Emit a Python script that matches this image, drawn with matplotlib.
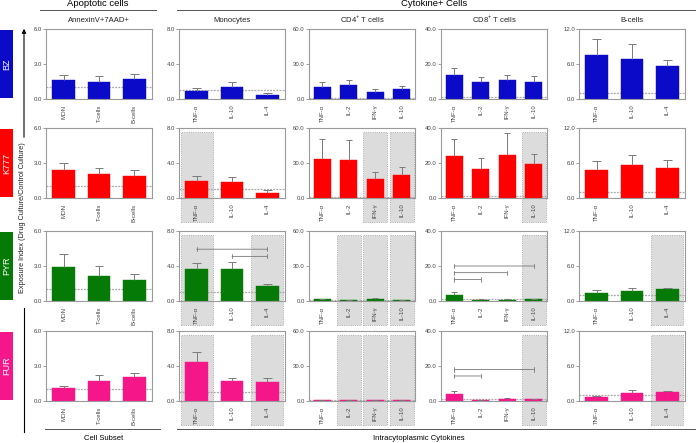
import numpy as np
import matplotlib.pyplot as plt
import matplotlib.transforms as mtransforms
from matplotlib.patches import Rectangle, FancyArrowPatch
from matplotlib.lines import Line2D

plt.rcParams['font.family'] = ['Liberation Sans', 'DejaVu Sans']
plt.rcParams['mathtext.fontset'] = 'custom'
plt.rcParams['mathtext.rm'] = 'Liberation Sans'

W, H = 696, 443

drugs = ['BZ', 'K777', 'PYR', 'FUR']
drug_colors = ['#0a0ac8', '#ff0000', '#067a06', '#f5168a']

panel_titles = ['AnnexinV+7AAD+', 'Monocytes', 'CD4$^{+}$ T cells',
                'CD8$^{+}$ T cells', 'B-cells']
panel_cats = [
    ['MON', 'T-cells', 'B-cells'],
    ['TNF-α', 'IL-10', 'IL-4'],
    ['TNF-α', 'IL-2', 'IFN-γ', 'IL-10'],
    ['TNF-α', 'IL-2', 'IFN-γ', 'IL-10'],
    ['TNF-α', 'IL-10', 'IL-4'],
]
panel_ymax = [6.0, 8.0, 60.0, 40.0, 12.0]

# means per drug (rows) and panel (columns)
mean_bz = [[1.65, 1.50, 1.70], [0.95, 1.40, 0.45], [9.9, 12.2, 6.4, 8.7],
           [13.7, 9.6, 10.8, 10.0], [7.5, 6.8, 5.7]]
mean_k777 = [[2.40, 2.05, 1.85], [1.96, 1.85, 0.62], [33.3, 32.2, 15.9, 20.0],
             [23.8, 16.6, 24.8, 19.4], [4.74, 5.6, 5.2]]
mean_pyr = [[2.89, 2.18, 1.81], [3.70, 3.62, 1.70], [1.3, 0.8, 1.9, 0.8],
            [3.6, 0.75, 0.75, 1.1], [1.42, 1.75, 2.04]]
mean_fur = [[1.09, 1.74, 2.10], [4.42, 2.30, 2.15], [1.0, 0.9, 0.8, 0.8],
            [4.1, 0.6, 1.3, 1.0], [0.67, 1.33, 1.50]]

# standard errors (upper bars only)
err_bz = [[0.45, 0.50, 0.45], [0.35, 0.60, 0.25], [4.3, 4.3, 2.0, 2.6],
          [4.3, 3.1, 3.2, 2.9], [2.8, 2.65, 0.93]]
err_k777 = [[0.57, 0.52, 0.57], [0.58, 0.53, 0.34], [17.4, 17.4, 6.7, 6.7],
            [9.9, 6.3, 12.2, 5.7], [1.6, 1.7, 1.3]]
err_pyr = [[1.11, 0.85, 0.51], [0.64, 0.80, 0.26], [0.3, 0.2, 0.8, 0.2],
           [1.5, 0.2, 0.2, 0.2], [0.45, 0.45, 0.16]]
err_fur = [[0.17, 0.47, 0.34], [1.20, 0.30, 0.45], [0.2, 0.2, 0.2, 0.2],
           [1.5, 0.15, 0.2, 0.2], [0.16, 0.50, 0.17]]

means = [mean_bz, mean_k777, mean_pyr, mean_fur]
errs = [err_bz, err_k777, err_pyr, err_fur]

# shaded (panel, category) per drug
highlight_bz = []
highlight_k777 = [(1, 0), (2, 2), (2, 3), (3, 3)]
highlight_pyr = [(1, 0), (1, 2), (2, 1), (2, 2), (2, 3), (3, 3), (4, 2)]
highlight_fur = [(1, 0), (1, 2), (2, 1), (2, 2), (2, 3), (3, 3), (4, 2)]
highlights = [highlight_bz, highlight_k777, highlight_pyr, highlight_fur]

# significance brackets: (drug, panel, from, to, y)
brackets = [
    (2, 1, 0, 2, 5.92), (2, 1, 1, 2, 5.1),
    (2, 3, 0, 3, 20.0), (2, 3, 0, 2, 16.2), (2, 3, 0, 1, 12.3),
    (3, 3, 0, 3, 18.0), (3, 3, 0, 1, 14.3),
]

col_left = [46, 179, 309, 441, 579]
col_w = 106
row_top = [29, 128, 231, 331]
row_h = 70

def fx(x):
    return x / W

def fy(y):
    return 1 - y / H

fig = plt.figure(figsize=(W / 100, H / 100), dpi=100)

axes = {}
for r, drug in enumerate(drugs):
    for c in range(5):
        ax = fig.add_axes([fx(col_left[c]), fy(row_top[r] + row_h),
                           col_w / W, row_h / H])
        axes[(r, c)] = ax
        cats = panel_cats[c]
        n = len(cats)
        x = np.arange(n)
        ymax = panel_ymax[c]
        trans = mtransforms.blended_transform_factory(ax.transData, ax.transAxes)

        for (p, k) in highlights[r]:
            if p == c:
                ax.add_patch(Rectangle((k - 0.45, -0.34), 0.9, 1.28, transform=trans,
                                       facecolor='#dcdcdc', edgecolor='#9a9a9a',
                                       linestyle=':', lw=0.6, clip_on=False, zorder=0))

        ax.axhline(1.0, color='#a8a8a8', lw=0.9, ls=(0, (1.5, 1)), zorder=1)
        ax.bar(x, means[r][c], width=0.65, color=drug_colors[r],
               edgecolor=drug_colors[r], lw=0.3, zorder=2)
        tops = np.array(means[r][c]) + np.array(errs[r][c])
        ax.vlines(x, means[r][c], tops, color='#7a7a7a', lw=0.7, zorder=3)
        ax.hlines(tops, x - 0.12, x + 0.12, color='#7a7a7a', lw=0.7, zorder=3)

        ax.set_xlim(-0.5, n - 0.5)
        ax.set_ylim(0, ymax)
        ax.set_yticks([0, ymax / 2, ymax])
        ax.set_yticklabels(['%.1f' % v for v in [0, ymax / 2, ymax]])
        ax.set_xticks(x)
        ax.set_xticklabels(cats, rotation=90)
        ax.tick_params(axis='y', labelsize=4.3, length=2, width=0.5,
                       color='#777777', labelcolor='#444444', pad=1)
        ax.tick_params(axis='x', labelsize=4.3, length=0, pad=4,
                       labelcolor='#444444')
        for s in ax.spines.values():
            s.set_color('#9a9a9a')
            s.set_linewidth(0.8)

        if r == 0:
            ax.set_title(panel_titles[c], fontsize=5.5, pad=5, color='#222222')

for (r, c, i, j, y) in brackets:
    ax = axes[(r, c)]
    ax.annotate('', xy=(i, y), xytext=(j, y),
                arrowprops=dict(arrowstyle='|-|,widthA=0.15,widthB=0.15',
                                color='#777777', lw=0.6, shrinkA=0, shrinkB=0))

# row labels
for r, drug in enumerate(drugs):
    t = row_top[r]
    fig.add_artist(Rectangle((0, fy(t + row_h - 1)), 13 / W, (row_h - 2) / H,
                             transform=fig.transFigure, facecolor=drug_colors[r],
                             edgecolor='none'))
    fig.text(fx(6.5), fy(t + row_h / 2), drug, rotation=90, color='white',
             fontsize=6.5, ha='center', va='center')

# y label with arrow
fig.add_artist(FancyArrowPatch((fx(24), fy(140)), (fx(24), fy(26)),
                               transform=fig.transFigure, arrowstyle='-|>',
                               mutation_scale=6, lw=0.8, color='k'))
fig.add_artist(Line2D([fx(24), fx(24)], [fy(308), fy(432)],
                      transform=fig.transFigure, color='k', lw=0.8))
fig.text(fx(22), fy(218), 'Exposure Index (Drug Culture/Control Culture)',
         rotation=90, fontsize=5.3, ha='center', va='center', color='#222222')

# group headers
fig.text(fx(98), fy(4), 'Apoptotic cells', fontsize=6.8, ha='center', va='center')
fig.add_artist(Line2D([fx(40), fx(156)], [fy(9.5), fy(9.5)],
                      transform=fig.transFigure, color='#555555', lw=0.7))
fig.text(fx(434), fy(4), 'Cytokine+ Cells', fontsize=6.8, ha='center', va='center')
fig.add_artist(Line2D([fx(177), fx(696)], [fy(9.5), fy(9.5)],
                      transform=fig.transFigure, color='#555555', lw=0.7))

fig.text(fx(104), fy(439), 'Cell Subset', fontsize=5.5, ha='center', va='center')
fig.add_artist(Line2D([fx(45), fx(160)], [fy(429), fy(429)],
                      transform=fig.transFigure, color='#555555', lw=0.7))
fig.text(fx(419), fy(439), 'Intracytoplasmic Cytokines', fontsize=5.5,
         ha='center', va='center')
fig.add_artist(Line2D([fx(177), fx(696)], [fy(429), fy(429)],
                      transform=fig.transFigure, color='#555555', lw=0.7))

fig.savefig('out.png', dpi=100)
